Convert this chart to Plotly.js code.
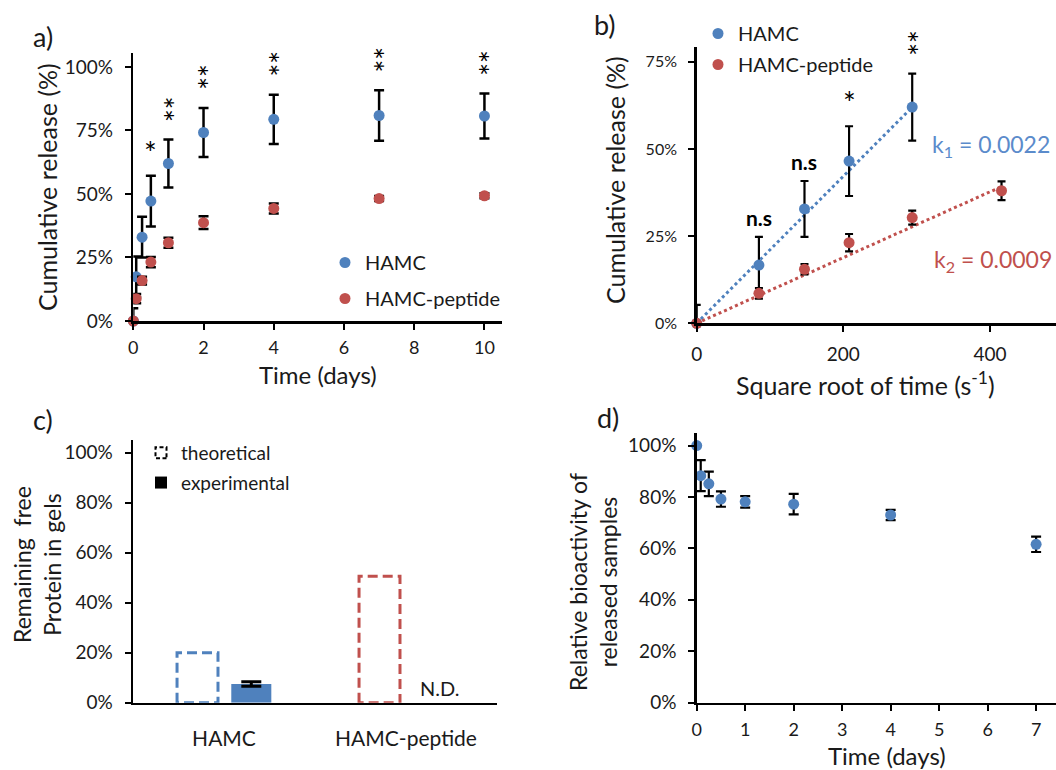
<!DOCTYPE html>
<html><head><meta charset="utf-8">
<script src="https://cdn.plot.ly/plotly-3.0.1.min.js"></script>
<style>html,body{margin:0;padding:0;background:#fff}#chart{width:1056px;height:770px}</style>
</head><body><div id="chart"></div><script>
// ---------- Panel a: cumulative release vs time ----------
const daysA = [0, 0.083, 0.25, 0.5, 1, 2, 4, 7, 10];
const hamcA = [0, 17.4, 33, 47.2, 62, 74.2, 79.4, 80.9, 80.7];
const hamcAErr = [5, 8, 8, 10, 9.4, 9.6, 9.7, 9.9, 8.9];
const pepA = [0, 8.8, 15.9, 23.2, 30.8, 38.7, 44.3, 48.2, 49.3];
const pepAErr = [0, 1.8, 1.5, 2, 2, 2.5, 2, 1, 1];
const sigA = ['', '', '', '*', '**', '**', '**', '**', '**'];
const xTicksA = [0, 2, 4, 6, 8, 10];
const yTicksA = [0, 25, 50, 75, 100];

// ---------- Panel b: release vs square root of time ----------
const sqrtB = [0, 84.85, 147, 207.8, 293.9];
const hamcB = [0, 16.7, 32.8, 46.5, 62];
const hamcBErr = [5.3, 8.1, 8, 10, 9.6];
const sqrtBPep = [0, 84.85, 147, 207.8, 293.9, 415.7];
const pepB = [0, 8.6, 15.5, 23.1, 30.3, 38];
const pepBErr = [0, 1.5, 1.5, 2.5, 2, 2.7];
const sigB = ['', 'n.s', 'n.s', '*', '**'];
const fitHamcX = [0, 294];
const fitHamcY = [0, 62];
const fitPepX = [0, 416];
const fitPepY = [0, 39.2];
const xTicksB = [0, 200, 400];
const yTicksB = [0, 25, 50, 75];
const k1Label = 'k<sub>1</sub> = 0.0022';
const k2Label = 'k<sub>2</sub> = 0.0009';

// ---------- Panel c: remaining free protein ----------
const groupsC = ['HAMC', 'HAMC-peptide'];
const theoretical = [20, 50.5];
const experimental = [7.5, null];
const experimentalErr = [0.9, 0];

// ---------- Panel d: relative bioactivity ----------
const daysD = [0, 0.083, 0.25, 0.5, 1, 2, 4, 7];
const bioD = [100, 88.3, 85.1, 79.2, 78.1, 77.2, 73, 61.6];
const bioDErr = [0, 6, 4.8, 3, 2.2, 4, 2, 3];

const BLUE = '#4F81BD', RED = '#C0504D', TXT = '#1a1a1a';
const FONT = 'Lato, "Open Sans", sans-serif';
const W = 1056, H = 770;
const px = v => v / W, py = v => 1 - v / H;
const pct = arr => arr.map(v => v + '%');

function errObj(arr, th, w) {
  return {type: 'data', array: arr, visible: true, color: '#000', thickness: th, width: w};
}

const data = [
  // a
  {x: daysA, y: hamcA, type: 'scatter', mode: 'markers', name: 'HAMC', xaxis: 'x', yaxis: 'y',
   marker: {color: BLUE, size: 11}, error_y: errObj(hamcAErr, 2.5, 5), cliponaxis: false,
   legend: 'legend', legendgroup: 'a1'},
  {x: daysA, y: pepA, type: 'scatter', mode: 'markers', name: 'HAMC-peptide', xaxis: 'x', yaxis: 'y',
   marker: {color: RED, size: 11}, error_y: errObj(pepAErr, 2.5, 5), cliponaxis: false,
   legend: 'legend', legendgroup: 'a2'},
  // b
  {x: fitHamcX, y: fitHamcY, type: 'scatter', mode: 'lines', xaxis: 'x2', yaxis: 'y2', showlegend: false,
   line: {color: BLUE, width: 3, dash: 'dot'}},
  {x: fitPepX, y: fitPepY, type: 'scatter', mode: 'lines', xaxis: 'x2', yaxis: 'y2', showlegend: false,
   line: {color: RED, width: 3, dash: 'dot'}},
  {x: sqrtB, y: hamcB, type: 'scatter', mode: 'markers', name: 'HAMC', xaxis: 'x2', yaxis: 'y2',
   marker: {color: BLUE, size: 11}, error_y: errObj(hamcBErr, 2.2, 4), cliponaxis: false,
   legend: 'legend2', legendgroup: 'b1'},
  {x: sqrtBPep, y: pepB, type: 'scatter', mode: 'markers', name: 'HAMC-peptide', xaxis: 'x2', yaxis: 'y2',
   marker: {color: RED, size: 11}, error_y: errObj(pepBErr, 2.2, 4), cliponaxis: false,
   legend: 'legend2', legendgroup: 'b2'},
  // c
  {x: groupsC, y: theoretical, type: 'bar', xaxis: 'x3', yaxis: 'y3', showlegend: false,
   width: 0.225, offset: -0.258,
   marker: {color: 'rgba(255,255,255,0)', line: {color: [BLUE, RED], width: 3}}},
  {x: groupsC, y: experimental, type: 'bar', xaxis: 'x3', yaxis: 'y3', showlegend: false,
   width: 0.22, offset: 0.04,
   marker: {color: BLUE, line: {width: 0}}, error_y: errObj(experimentalErr, 3, 10)},
  {x: [null], y: [null], type: 'scatter', mode: 'markers', name: 'theoretical', xaxis: 'x3', yaxis: 'y3',
   marker: {symbol: 'square-open', color: '#000', size: 11, line: {width: 2, color: '#000'}},
   legend: 'legend3', legendgroup: 'c1'},
  {x: [null], y: [null], type: 'scatter', mode: 'markers', name: 'experimental', xaxis: 'x3', yaxis: 'y3',
   marker: {symbol: 'square', color: '#000', size: 12},
   legend: 'legend3', legendgroup: 'c2'},
  // d
  {x: daysD, y: bioD, type: 'scatter', mode: 'markers', xaxis: 'x4', yaxis: 'y4', showlegend: false,
   marker: {color: BLUE, size: 11}, error_y: errObj(bioDErr, 2.2, 5), cliponaxis: false}
];

const axBase = {showline: true, linecolor: '#000', linewidth: 2.5, showgrid: false, zeroline: false,
  ticks: 'outside', ticklen: 6, tickwidth: 2, tickcolor: '#000', tickfont: {family: FONT, size: 19, color: TXT},
  ticklabelstandoff: 8, fixedrange: true};

const layout = {
  width: W, height: H, margin: {l: 0, r: 0, t: 0, b: 0},
  paper_bgcolor: '#fff', plot_bgcolor: 'rgba(0,0,0,0)',
  font: {family: FONT, color: TXT},
  barmode: 'overlay',
  xaxis: Object.assign({}, axBase, {domain: [px(133.3), px(502)], range: [0, 10.5], tickvals: xTicksA, ticklabelstandoff: 3, tickfont: {family: FONT, size: 18, color: TXT}, anchor: 'y'}),
  yaxis: Object.assign({}, axBase, {domain: [py(321), py(53)], range: [0, 105.5], tickmode: 'array', tickvals: yTicksA, ticktext: pct(yTicksA), anchor: 'x'}),
  xaxis2: Object.assign({}, axBase, {domain: [px(696.7), 1], range: [0, 490], tickvals: xTicksB, ticklabelstandoff: 6, anchor: 'y2'}),
  yaxis2: Object.assign({}, axBase, {domain: [py(323.3), py(46.7)], range: [0, 79.3], tickmode: 'array', tickvals: yTicksB, ticktext: pct(yTicksB), anchor: 'x2', tickfont: {family: FONT, size: 16, color: TXT}}),
  xaxis3: Object.assign({}, axBase, {domain: [px(133), px(497)], type: 'category', range: [-0.5, 1.5], ticks: '', ticklabelstandoff: 16, tickfont: {family: FONT, size: 21, color: TXT}, anchor: 'y3'}),
  yaxis3: Object.assign({}, axBase, {domain: [py(702.7), py(440)], range: [0, 105], dtick: 20, tick0: 0, ticksuffix: '%', anchor: 'x3'}),
  xaxis4: Object.assign({}, axBase, {domain: [px(696.7), 1], range: [0, 7.41], dtick: 1, tick0: 0, ticklabelstandoff: 3, tickfont: {family: FONT, size: 18, color: TXT}, anchor: 'y4'}),
  yaxis4: Object.assign({}, axBase, {domain: [py(702.7), py(432.7)], range: [0, 105], dtick: 20, tick0: 0, ticksuffix: '%', anchor: 'x4'}),
  legend: {x: px(325), y: py(243), xanchor: 'left', yanchor: 'top', bgcolor: 'rgba(0,0,0,0)',
    font: {family: FONT, size: 20, color: TXT}, traceorder: 'grouped', tracegroupgap: 7},
  legend2: {x: px(698), y: py(14), xanchor: 'left', yanchor: 'top', bgcolor: 'rgba(0,0,0,0)',
    font: {family: FONT, size: 20, color: TXT}, traceorder: 'grouped', tracegroupgap: 2},
  legend3: {x: px(141), y: py(434), xanchor: 'left', yanchor: 'top', bgcolor: 'rgba(0,0,0,0)',
    font: {family: FONT, size: 19, color: TXT}, traceorder: 'grouped', tracegroupgap: 2},
  annotations: []
};

const ann = layout.annotations;
function sig(list, xs, ys, errs, xref, yref, fontSize) {
  list.forEach((t, i) => {
    if (!t) return;
    const rotated = t === '**';
    const ns = t === 'n.s';
    ann.push({x: xs[i], y: ys[i] + errs[i], xref: xref, yref: yref, text: ns ? '<b>' + t + '</b>' : t,
      showarrow: false, xanchor: 'center', yanchor: 'middle', textangle: rotated ? -90 : 0,
      xshift: rotated ? 6 : 0, yshift: ns ? 19 : (rotated ? 31 : 24),
      font: {family: FONT, size: ns ? 21 : fontSize, color: '#000'}});
  });
}
sig(sigA, daysA, hamcA, hamcAErr, 'x', 'y', 30);
sig(sigB, sqrtB, hamcB, hamcBErr, 'x2', 'y2', 30);

// panel labels
[['a)', 43, 37], ['b)', 605, 25], ['c)', 43, 420], ['d)', 608, 417]].forEach(([t, x, y]) => {
  ann.push({x: px(x), y: py(y), xref: 'paper', yref: 'paper', text: t, showarrow: false,
    xanchor: 'center', yanchor: 'middle', font: {family: FONT, size: 27, color: TXT}});
});
// axis titles
function title(t, x, y, angle, size) {
  ann.push({x: px(x), y: py(y), xref: 'paper', yref: 'paper', text: t, showarrow: false,
    xanchor: 'center', yanchor: 'middle', textangle: angle, font: {family: FONT, size: size, color: TXT}});
}
title('Cumulative release (%)', 47, 187, -90, 25);
title('Time (days)', 318, 374, 0, 24);
title('Cumulative release (%)', 615, 180, -90, 25);
title('Square root of time (s<sup>-1</sup>)', 865, 384, 0, 25);
title('Remaining  free<br>Protein in gels', 37, 565, -90, 23);
title('Relative bioactivity of<br>released samples', 593, 582, -90, 23);
title('Time (days)', 887, 755, 0, 24);

// k labels and N.D.
ann.push({x: 318, y: 50.9, xref: 'x2', yref: 'y2', text: k1Label, showarrow: false, xanchor: 'left', yanchor: 'middle',
  font: {family: FONT, size: 23, color: '#5B8BCB'}});
ann.push({x: 321, y: 17.9, xref: 'x2', yref: 'y2', text: k2Label, showarrow: false, xanchor: 'left', yanchor: 'middle',
  font: {family: FONT, size: 23, color: RED}});
ann.push({x: groupsC[1], y: 5.8, xref: 'x3', yref: 'y3', text: 'N.D.', showarrow: false, xanchor: 'center', yanchor: 'middle',
  xshift: 33, font: {family: FONT, size: 20, color: TXT}});

const gd = document.getElementById('chart');
Plotly.newPlot(gd, data, layout, {staticPlot: true, displayModeBar: false}).then(() => {
  const bars = gd.querySelectorAll('.barlayer .trace.bars');
  if (bars.length) bars[0].querySelectorAll('path').forEach(p => { p.style.strokeDasharray = '10,5'; });
  const leg3 = gd.querySelector('.legend3');
  const l3 = leg3 ? leg3.querySelectorAll('.traces') : [];
  if (l3.length) l3[0].querySelectorAll('.legendpoints path').forEach(p => { p.style.strokeDasharray = '4,2.5'; });
});
</script></body></html>
